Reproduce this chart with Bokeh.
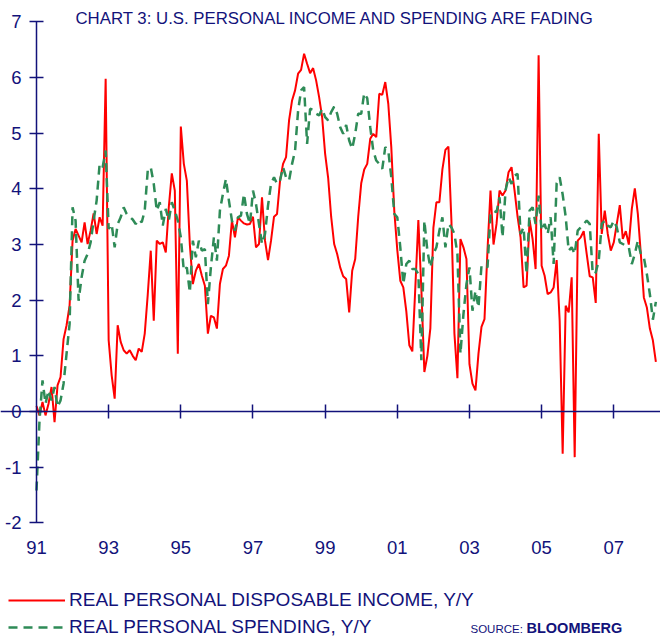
from bokeh.plotting import figure
from bokeh.models import Range1d, LinearAxis, FixedTicker, Legend, LegendItem, Label
from bokeh.embed import file_html
from bokeh.resources import INLINE

# ---------------- data (monthly, starting Jan 1991) ----------------
START_YEAR = 1991

income = [
    0.10, -0.07, 0.17, -0.07, 0.14, 0.44, -0.19, 0.47, 0.62, 1.30, 1.55, 1.90,
    3.07, 3.28, 3.16, 3.04, 3.40, 3.01, 3.25, 3.56, 3.19, 3.49, 3.34, 5.98,
    1.28, 0.65, 0.23, 1.55, 1.25, 1.10, 1.04, 1.10, 1.00, 0.92, 1.13, 1.07,
    1.40, 2.10, 2.89, 1.63, 3.07, 3.01, 3.04, 2.86, 3.67, 4.28, 3.97, 1.04,
    5.12, 4.45, 4.15, 3.00, 2.29, 2.53, 2.65, 2.44, 2.26, 1.40, 1.72, 1.69,
    1.49, 2.29, 2.56, 2.62, 2.80, 3.43, 3.13, 3.49, 3.43, 3.38, 3.36, 3.37,
    3.50, 2.95, 3.01, 3.85, 3.07, 2.72, 3.07, 3.50, 3.55, 4.15, 4.45, 4.57,
    5.23, 5.59, 5.77, 6.07, 6.14, 6.43, 6.25, 6.08, 6.17, 5.95, 5.65, 5.29,
    4.63, 4.20, 3.50, 3.01, 2.83, 2.59, 2.43, 2.38, 1.78, 2.53, 2.74, 3.50,
    4.10, 4.35, 4.45, 4.90, 4.99, 4.93, 5.71, 5.69, 5.92, 5.53, 4.75, 3.60,
    2.90, 2.35, 2.23, 1.80, 1.19, 1.08, 2.23, 3.44, 2.20, 0.71, 1.00, 1.50,
    3.30, 3.76, 3.76, 4.35, 4.70, 4.76, 3.43, 1.40, 0.60, 3.10, 2.95, 2.74,
    0.85, 0.50, 0.38, 1.04, 1.52, 1.66, 2.90, 3.97, 3.00, 3.37, 3.97, 3.88,
    3.97, 4.30, 4.39, 3.97, 3.50, 3.13, 2.23, 2.26, 3.44, 3.10, 2.56, 6.40,
    2.62, 2.44, 2.11, 2.14, 2.23, 2.72, 1.63, -0.76, 1.90, 1.78, 2.41, -0.82,
    3.07, 3.13, 3.24, 2.83, 2.43, 2.41, 1.95, 4.99, 3.19, 3.61, 3.19, 2.89,
    3.04, 3.37, 3.71, 3.10, 3.24, 3.00, 3.64, 4.01, 3.55, 2.83, 2.05, 1.87,
    1.49, 1.28, 0.89,
]

spending = [
    -1.42, -0.16, 0.56, 0.14, 0.38, 0.20, 0.44, 0.08, 0.20, 0.50, 1.04, 1.57,
    3.67, 3.43, 1.99, 2.41, 2.71, 2.83, 3.04, 3.43, 3.79, 4.45, 4.39, 4.69,
    3.28, 3.37, 2.95, 3.37, 3.49, 3.67, 3.55, 3.50, 3.45, 3.37, 3.45, 3.40,
    3.61, 4.33, 4.39, 4.09, 3.61, 3.76, 3.34, 3.64, 3.43, 3.76, 3.61, 3.43,
    3.13, 2.53, 2.59, 2.14, 3.07, 2.77, 3.07, 2.89, 2.92, 1.93, 2.59, 3.13,
    2.71, 3.61, 3.91, 4.18, 3.79, 3.43, 3.25, 3.49, 3.52, 3.91, 3.55, 3.37,
    3.97, 3.73, 3.37, 3.01, 3.19, 3.70, 4.09, 4.21, 4.09, 4.15, 4.39, 4.21,
    4.15, 4.45, 4.69, 5.40, 5.77, 5.83, 4.81, 5.44, 5.42, 5.35, 5.32, 5.44,
    5.29, 5.23, 5.38, 5.48, 5.35, 5.11, 4.99, 5.15, 4.87, 4.72, 4.99, 5.35,
    5.35, 5.72, 5.63, 5.11, 4.69, 4.51, 4.45, 4.36, 4.75, 4.69, 4.21, 3.55,
    3.49, 2.95, 2.29, 2.65, 2.71, 2.56, 2.56, 2.47, 0.92, 3.43, 2.89, 2.59,
    2.83, 2.95, 3.25, 3.49, 2.95, 3.37, 3.31, 3.19, 2.83, 1.04, 1.75, 2.29,
    2.59, 1.81, 2.17, 1.87, 2.62, 2.62, 2.59, 3.55, 3.61, 3.58, 3.85, 3.13,
    3.97, 4.21, 4.09, 4.24, 4.27, 3.19, 3.31, 2.47, 3.61, 3.67, 3.37, 3.88,
    3.25, 3.37, 3.19, 3.49, 2.65, 4.10, 4.21, 3.90, 3.50, 2.89, 2.95, 2.83,
    3.25, 3.31, 3.37, 3.43, 3.37, 2.47, 2.50, 2.71, 3.37, 3.43, 3.34, 3.31,
    3.43, 3.31, 3.04, 3.01, 2.98, 2.95, 2.65, 2.83, 3.07, 2.83, 2.77, 2.47,
    2.11, 1.65, 1.97,
]

x_tick_years = [1991, 1993, 1995, 1997, 1999, 2001, 2003, 2005, 2007]
x_tick_labels = ["91", "93", "95", "97", "99", "01", "03", "05", "07"]
y_ticks = [-2, -1, 0, 1, 2, 3, 4, 5, 6, 7]

series_names = ["REAL PERSONAL DISPOSABLE INCOME, Y/Y", "REAL PERSONAL SPENDING, Y/Y"]
title_text = "CHART 3: U.S. PERSONAL INCOME AND SPENDING ARE FADING"

months = [START_YEAR + i / 12.0 for i in range(len(income))]
months_sp = [START_YEAR + i / 12.0 for i in range(len(spending))]

# ---------------- layout ----------------
NAVY = "#12127a"
FONT = "Liberation Sans"
W, H = 660, 639
AXIS_X_PX = 36          # pixel column of the y axis (1991)
PX_PER_YEAR = 36.08
ZERO_Y_PX = 411         # pixel row of y = 0
PX_PER_UNIT = 55.65

X0 = START_YEAR - AXIS_X_PX / PX_PER_YEAR
X1 = START_YEAR + (W - AXIS_X_PX) / PX_PER_YEAR
Y1 = ZERO_Y_PX / PX_PER_UNIT
Y0 = -(H - ZERO_Y_PX) / PX_PER_UNIT


def dx(px):
    return START_YEAR + (px - AXIS_X_PX) / PX_PER_YEAR


def dy(py):
    return (ZERO_Y_PX - py) / PX_PER_UNIT


p = figure(width=W, height=H, x_range=Range1d(X0, X1), y_range=Range1d(Y0, Y1),
           output_backend="svg", toolbar_location=None,
           x_axis_location=None, y_axis_location=None,
           min_border_left=0, min_border_right=0, min_border_top=0,
           min_border_bottom=0)
p.outline_line_color = None
p.background_fill_color = "white"
p.border_fill_color = "white"
p.grid.visible = False

yaxis = LinearAxis(ticker=FixedTicker(ticks=y_ticks), bounds=(-2, 7),
                   fixed_location=START_YEAR,
                   major_label_overrides={v: str(v) for v in y_ticks},
                   axis_line_color=NAVY, axis_line_width=1.5,
                   major_tick_line_color=NAVY, major_tick_line_width=1.5,
                   major_tick_in=7, major_tick_out=7, minor_tick_line_color=None,
                   major_label_text_font=FONT, major_label_text_font_size="18.5px",
                   major_label_text_color=NAVY, major_label_standoff=8)
p.add_layout(yaxis, "left")

xzero = LinearAxis(ticker=FixedTicker(ticks=x_tick_years[1:]), fixed_location=0,
                   axis_line_color=NAVY, axis_line_width=1.5,
                   major_tick_line_color=NAVY, major_tick_line_width=1.5,
                   major_tick_in=7, major_tick_out=7, minor_tick_line_color=None,
                   major_label_text_font_size="0px", major_label_text_alpha=0,
                   major_label_standoff=0)
p.add_layout(xzero, "below")

xlab = LinearAxis(ticker=FixedTicker(ticks=x_tick_years), fixed_location=dy(536),
                  major_label_overrides=dict(zip(x_tick_years, x_tick_labels)),
                  axis_line_color=None, major_tick_line_color=None,
                  major_tick_in=0, major_tick_out=0, minor_tick_line_color=None,
                  major_label_text_font=FONT, major_label_text_font_size="18.5px",
                  major_label_text_color=NAVY, major_label_standoff=4)
p.add_layout(xlab, "below")

r_inc = p.line(months, income, line_color="#ff0000", line_width=2)
r_sp = p.line(months_sp, spending, line_color="#2e8b57", line_width=2.5, line_dash="9 6")

legend = Legend(items=[LegendItem(label=series_names[0], renderers=[r_inc]),
                       LegendItem(label=series_names[1], renderers=[r_sp])],
                location=(8, 0),
                glyph_width=57, glyph_height=24, label_height=24, label_standoff=4,
                spacing=3, padding=0, margin=0, border_line_color=None,
                background_fill_alpha=0, label_text_font=FONT,
                label_text_font_size="19px", label_text_color=NAVY)
p.add_layout(legend)

p.add_layout(Label(x=dx(75), y=dy(18), text=title_text, text_font=FONT,
                   text_font_size="16.8px", text_color=NAVY, text_baseline="middle"))
p.add_layout(Label(x=dx(470), y=dy(628), text="SOURCE:", text_font=FONT,
                   text_font_size="11.5px", text_color=NAVY, text_baseline="middle"))
p.add_layout(Label(x=dx(526), y=dy(627), text="BLOOMBERG", text_font=FONT,
                   text_font_size="14.5px", text_font_style="bold", text_color=NAVY,
                   text_baseline="middle"))

open("out.html", "w").write(file_html(p, INLINE))
